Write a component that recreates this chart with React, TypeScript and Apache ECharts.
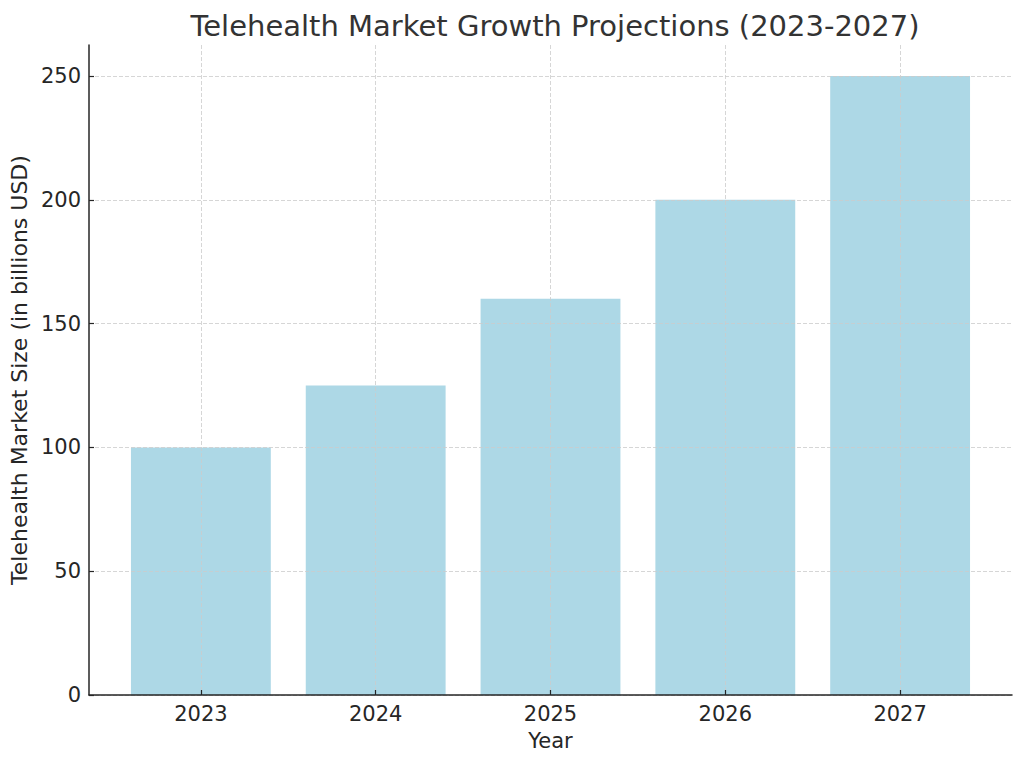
import { useEffect, useRef } from 'react';
import * as echarts from 'echarts';

// 年份与市场规模（十亿美元）
const years = ['2023', '2024', '2025', '2026', '2027'];
const marketSize = [100, 125, 160, 200, 250];
const yTicks = [0, 50, 100, 150, 200, 250];

const FONT = '"DejaVu Sans", sans-serif';
const TEXT = '#262626';

export default function App() {
  const chartRef = useRef<HTMLDivElement>(null);

  useEffect(() => {
    if (!chartRef.current) return;
    const chart = echarts.init(chartRef.current, undefined, { renderer: 'svg' });

    const xIdx = years.map((_, i) => i);
    const gridLine = { show: true, lineStyle: { color: '#cccccc', width: 0.8, type: [4, 2] as number[] } };

    const option: echarts.EChartsOption = {
      animation: false,
      backgroundColor: '#ffffff',
      textStyle: { fontFamily: FONT },
      title: {
        text: 'Telehealth Market Growth Projections (2023-2027)',
        left: 550,
        textAlign: 'center',
        top: 6,
        textStyle: { fontFamily: FONT, fontSize: 29, fontWeight: 'normal', color: '#333333' },
      },
      grid: { left: 89, right: 12, top: 45, bottom: 70 },
      xAxis: {
        type: 'value',
        min: -0.64,
        max: 4.64,
        z: 3,
        name: 'Year',
        nameLocation: 'middle',
        nameGap: 35,
        nameTextStyle: { fontFamily: FONT, fontSize: 21, color: TEXT },
        axisLine: { show: true, onZero: false, lineStyle: { color: TEXT, width: 1.5 } },
        axisTick: { show: true, inside: true, length: 5, customValues: xIdx, lineStyle: { color: TEXT, width: 1.2 } },
        axisLabel: {
          customValues: xIdx,
          margin: 8,
          fontFamily: FONT,
          fontSize: 21,
          color: TEXT,
          formatter: (v: number) => years[Math.round(v)] ?? '',
        },
        splitLine: gridLine,
      },
      yAxis: {
        type: 'value',
        min: 0,
        max: 262.5,
        z: 3,
        name: 'Telehealth Market Size (in billions USD)',
        nameLocation: 'middle',
        nameGap: 57,
        nameTextStyle: { fontFamily: FONT, fontSize: 22, color: TEXT },
        axisLine: { show: true, onZero: false, lineStyle: { color: TEXT, width: 1.5 } },
        axisTick: { show: true, inside: true, length: 5, customValues: yTicks, lineStyle: { color: TEXT, width: 1.2 } },
        axisLabel: { customValues: yTicks, margin: 8, fontFamily: FONT, fontSize: 21, color: TEXT },
        splitLine: gridLine,
      },
      series: [
        {
          type: 'bar',
          data: marketSize.map((v, i) => [i, v]),
          barWidth: '80%',
          itemStyle: { color: '#add8e6' },
        },
      ],
    };

    chart.setOption(option);
    return () => chart.dispose();
  }, []);

  return (
    <div
      ref={chartRef}
      style={{ position: 'absolute', left: 0, top: 0, width: '1024px', height: '765px' }}
    />
  );
}
